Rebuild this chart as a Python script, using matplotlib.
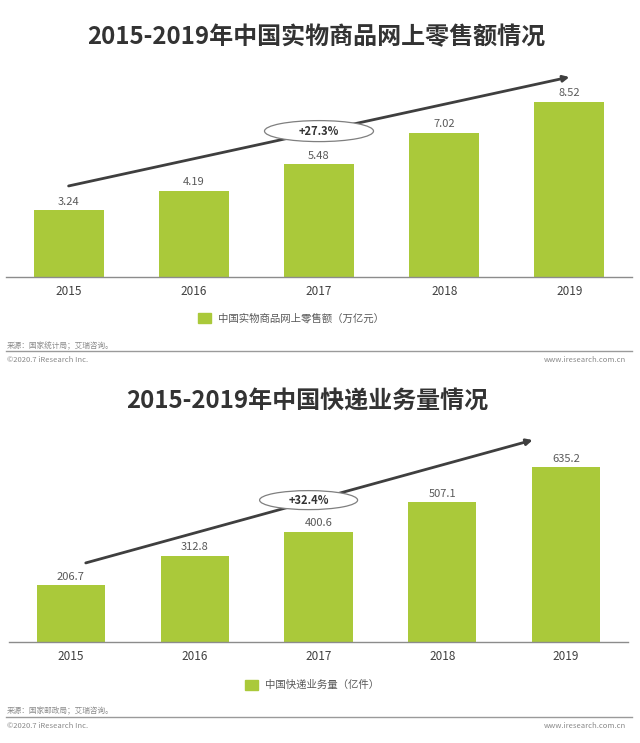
import matplotlib
matplotlib.use("Agg")
import matplotlib.pyplot as plt
from matplotlib.lines import Line2D
from matplotlib.patches import Ellipse, Patch

plt.rcParams["font.family"] = ["Noto Sans CJK SC", "DejaVu Sans"]

# data
years = ["2015", "2016", "2017", "2018", "2019"]
retail_sales = [3.24, 4.19, 5.48, 7.02, 8.52]          # 万亿元
express_volume = [206.7, 312.8, 400.6, 507.1, 635.2]   # 亿件
retail_growth = "+27.3%"
express_growth = "+32.4%"

title1 = "2015-2019年中国实物商品网上零售额情况"
title2 = "2015-2019年中国快递业务量情况"
legend1 = "中国实物商品网上零售额（万亿元）"
legend2 = "中国快递业务量（亿件）"
source1 = "来源：国家统计局；艾瑞咨询。"
source2 = "来源：国家邮政局；艾瑞咨询。"
copyright_txt = "©2020.7 iResearch Inc."
site_txt = "www.iresearch.com.cn"

GREEN = "#aac93a"
DARK = "#333333"
GRAY = "#595959"

W, H = 640, 743
fig = plt.figure(figsize=(W / 100, H / 100), dpi=100)


def px_axes(left, top, right, bottom):
    return fig.add_axes([left / W, 1 - bottom / H, (right - left) / W, (bottom - top) / H])


def fy(y):
    return 1 - y / H


def draw_panel(ax, values, ymax, width, fmt, growth, arrow_xy0, arrow_xy1,
               ell_xy, ell_px):
    x = range(len(values))
    ax.bar(x, values, width=width, color=GREEN, zorder=2)
    ax.set_xlim(-0.5, 4.5)
    ax.set_ylim(0, ymax)
    for s in ["top", "right", "left"]:
        ax.spines[s].set_visible(False)
    ax.spines["bottom"].set_color("#8c8c8c")
    ax.spines["bottom"].set_linewidth(1.0)
    ax.set_yticks([])
    ax.set_xticks(list(x))
    ax.set_xticklabels(years, fontsize=8.5, color="#404040")
    ax.tick_params(axis="x", length=0, pad=6)
    for xi, v in zip(x, values):
        ax.annotate(fmt.format(v), (xi, v), xytext=(0, 2.5), textcoords="offset points",
                    ha="center", va="bottom", fontsize=8, color=GRAY)
    ax.annotate("", xy=arrow_xy1, xytext=arrow_xy0,
                arrowprops=dict(arrowstyle="-|>", color="#3f3f3f", lw=2,
                                mutation_scale=9, shrinkA=0, shrinkB=0), zorder=3)
    # ellipse sized in pixels, converted to data units
    bbox = ax.get_position()
    px_x = bbox.width * W / 5.0
    px_y = bbox.height * H / ymax
    ax.add_patch(Ellipse(ell_xy, ell_px[0] / px_x, ell_px[1] / px_y,
                         facecolor="white", edgecolor="#7f7f7f", lw=0.9, zorder=5))
    ax.text(ell_xy[0], ell_xy[1], growth, ha="center", va="center", fontsize=8,
            fontweight="bold", color=DARK, zorder=6)


# top panel
ax1 = px_axes(6, 60, 632, 277)
draw_panel(ax1, retail_sales, 10.56, 0.56, "{:.2f}", retail_growth,
           (0.0, 4.43), (4.0, 9.73), (2.0, 7.1), (109, 21))
fig.text(316 / W, fy(37), title1, ha="center", va="center", fontsize=17.3,
         fontweight="bold", color=DARK)

# bottom panel
ax2 = px_axes(9, 430, 628, 642)
draw_panel(ax2, express_volume, 769.5, 0.55, "{:.1f}", express_growth,
           (0.12, 287), (3.73, 733), (1.92, 515), (98, 19))
fig.text(307 / W, fy(401), title2, ha="center", va="center", fontsize=17.3,
         fontweight="bold", color=DARK)

# legends
for label, cx, cy in [(legend1, 291, 318), (legend2, 312, 685)]:
    fig.legend(handles=[Patch(color=GREEN, label=label)], loc="center",
               bbox_to_anchor=(cx / W, fy(cy)), frameon=False, fontsize=7.5,
               handlelength=1.2, handleheight=1.1, handletextpad=0.7,
               labelcolor=GRAY)

# footers
for src, ys, yl, yc in [(source1, 346, 351, 360), (source2, 711, 717, 726)]:
    fig.text(7 / W, fy(ys), src, ha="left", va="center", fontsize=5.5, color="#8a8a8a")
    fig.add_artist(Line2D([6 / W, 632 / W], [fy(yl), fy(yl)], color="#9a9a9a", lw=1))
    fig.text(7 / W, fy(yc), copyright_txt, ha="left", va="center", fontsize=5.5,
             color="#8a8a8a")
    fig.text(626 / W, fy(yc), site_txt, ha="right", va="center", fontsize=5.5,
             color="#8a8a8a")

fig.savefig("out.png", dpi=100)
